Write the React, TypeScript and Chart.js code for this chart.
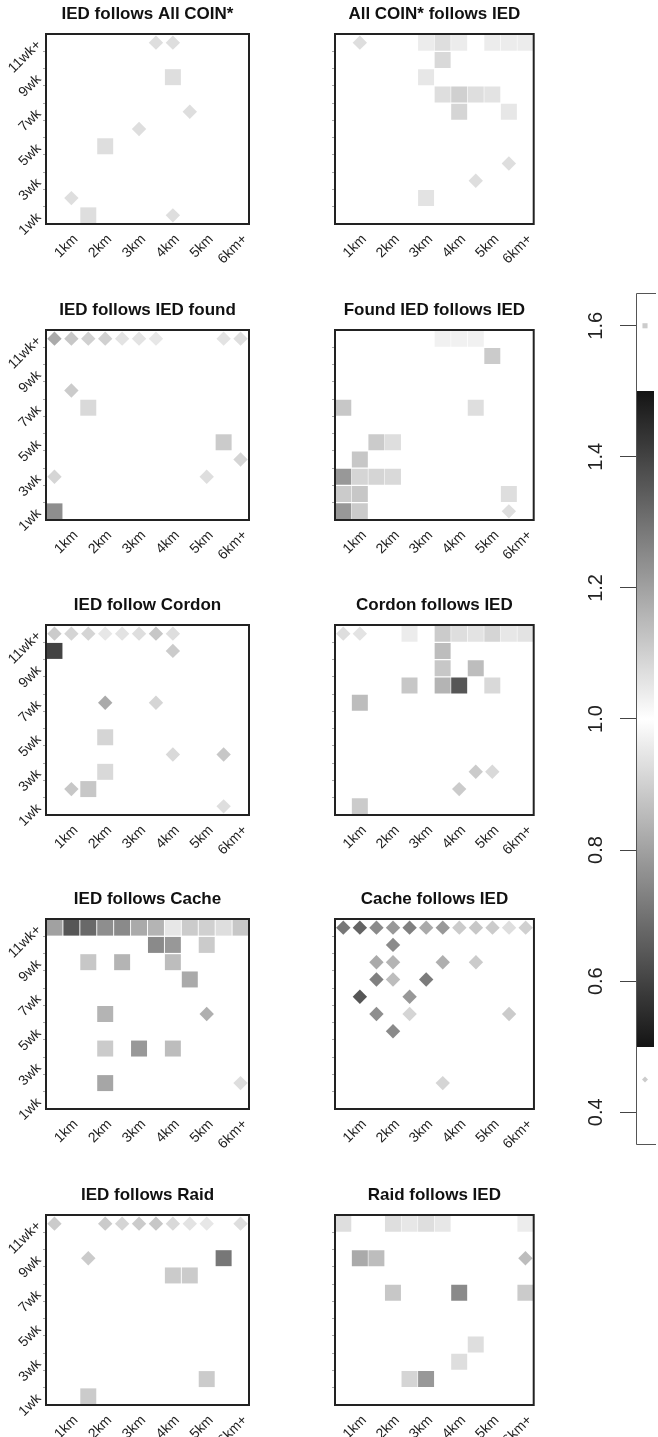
import React, { useEffect, useRef } from 'react';
import { Chart, registerables } from 'chart.js';

Chart.register(...registerables);

const FONT = "'Liberation Sans', Arial, Helvetica, sans-serif";
Chart.defaults.font.family = FONT;

type Cell = [number, number, number]; // [distance column (0.5km steps), week row, ratio]

// ---- axis labels ----
const xTickValues = [2, 4, 6, 8, 10, 12];
const xTickLabels = ['1km', '2km', '3km', '4km', '5km', '6km+'];
const yTickValues = [1, 3, 5, 7, 9, 11];
const yTickLabels = ['1wk', '3wk', '5wk', '7wk', '9wk', '11wk+'];
const yMinorTicks = [1.5, 2.5, 3.5, 4.5, 5.5, 6.5, 7.5, 8.5, 9.5, 10.5];

const colorbarTicks = [0.4, 0.6, 0.8, 1.0, 1.2, 1.4, 1.6];
const bandRange: [number, number] = [0.5, 1.5];
const legendSquareValue = 1.6;
const legendDiamondValue = 0.45;

// ---- panel titles ----
const panelTitles = [
  'IED follows All COIN*', 'All COIN* follows IED',
  'IED follows IED found', 'Found IED follows IED',
  'IED follow Cordon', 'Cordon follows IED',
  'IED follows Cache', 'Cache follows IED',
  'IED follows Raid', 'Raid follows IED',
];

// ---- panel data: [column, row, ratio] ----
const iedFollowsAllCoin: Cell[] = [
  [7, 11, 0.93], [8, 11, 0.93], [8, 9, 1.07], [9, 7, 0.93], [6, 6, 0.93],
  [4, 5, 1.07], [2, 2, 0.93], [3, 1, 1.07], [8, 1, 0.93],
];
const allCoinFollowsIed: Cell[] = [
  [2, 11, 0.93], [6, 11, 1.04], [7, 11, 1.07], [8, 11, 1.04], [10, 11, 1.04], [11, 11, 1.04], [12, 11, 1.04],
  [7, 10, 1.08], [6, 9, 1.05],
  [7, 8, 1.07], [8, 8, 1.10], [9, 8, 1.07], [10, 8, 1.06],
  [8, 7, 1.09], [11, 7, 1.05],
  [11, 4, 0.93], [9, 3, 0.93], [6, 2, 1.06],
];
const iedFollowsIedFound: Cell[] = [
  [1, 11, 0.82], [2, 11, 0.88], [3, 11, 0.90], [4, 11, 0.90], [5, 11, 0.94], [6, 11, 0.94], [7, 11, 0.95],
  [11, 11, 0.94], [12, 11, 0.93],
  [2, 8, 0.89], [3, 7, 1.08], [11, 5, 1.11], [12, 4, 0.91], [1, 3, 0.91], [10, 3, 0.93], [1, 1, 1.24],
];
const foundIedFollowsIed: Cell[] = [
  [7, 11, 1.03], [8, 11, 1.03], [9, 11, 1.03],
  [10, 10, 1.11],
  [1, 7, 1.12], [9, 7, 1.07],
  [3, 5, 1.11], [4, 5, 1.07],
  [2, 4, 1.12],
  [1, 3, 1.22], [2, 3, 1.09], [3, 3, 1.09], [4, 3, 1.08],
  [1, 2, 1.11], [2, 2, 1.12], [11, 2, 1.07],
  [1, 1, 1.22], [2, 1, 1.11], [11, 1, 0.93],
];
const iedFollowCordon: Cell[] = [
  [1, 11, 0.89], [2, 11, 0.91], [3, 11, 0.91], [4, 11, 0.95], [5, 11, 0.94], [6, 11, 0.93], [7, 11, 0.88], [8, 11, 0.93],
  [1, 10, 1.40], [8, 10, 0.89],
  [4, 7, 0.82], [7, 7, 0.91],
  [4, 5, 1.09],
  [8, 4, 0.92], [11, 4, 0.88],
  [4, 3, 1.08],
  [2, 2, 0.88], [3, 2, 1.12],
  [11, 1, 0.93],
];
const cordonFollowsIed: Cell[] = [
  [1, 11, 0.93], [2, 11, 0.94], [5, 11, 1.04], [7, 11, 1.11], [8, 11, 1.07], [9, 11, 1.06], [10, 11, 1.09],
  [11, 11, 1.05], [12, 11, 1.06],
  [7, 10, 1.14],
  [7, 9, 1.12], [9, 9, 1.14],
  [5, 8, 1.12], [7, 8, 1.16], [8, 8, 1.36], [10, 8, 1.08],
  [2, 7, 1.14],
  [9, 3, 0.89], [10, 3, 0.92],
  [8, 2, 0.89],
  [2, 1, 1.11],
];
const iedFollowsCache: Cell[] = [
  [1, 11, 1.20], [2, 11, 1.36], [3, 11, 1.32], [4, 11, 1.24], [5, 11, 1.25], [6, 11, 1.18],
  [7, 11, 1.16], [8, 11, 1.05], [9, 11, 1.11], [10, 11, 1.10], [11, 11, 1.07], [12, 11, 1.12],
  [7, 10, 1.25], [8, 10, 1.22], [10, 10, 1.11],
  [3, 9, 1.12], [5, 9, 1.16], [8, 9, 1.14],
  [9, 8, 1.18],
  [4, 6, 1.16], [10, 6, 0.83],
  [4, 4, 1.11], [6, 4, 1.22], [8, 4, 1.14],
  [4, 2, 1.19], [12, 2, 0.93],
];
const cacheFollowsIed: Cell[] = [
  [1, 11, 0.71], [2, 11, 0.67], [3, 11, 0.75], [4, 11, 0.78], [5, 11, 0.73], [6, 11, 0.82],
  [7, 11, 0.78], [8, 11, 0.89], [9, 11, 0.88], [10, 11, 0.89], [11, 11, 0.93], [12, 11, 0.90],
  [4, 10, 0.75],
  [3, 9, 0.82], [4, 9, 0.84], [7, 9, 0.83], [9, 9, 0.89],
  [3, 8, 0.73], [4, 8, 0.86], [6, 8, 0.72],
  [2, 7, 0.64], [5, 7, 0.78],
  [3, 6, 0.76], [5, 6, 0.91], [11, 6, 0.89],
  [4, 5, 0.75],
  [7, 2, 0.91],
];
const iedFollowsRaid: Cell[] = [
  [1, 11, 0.89], [4, 11, 0.89], [5, 11, 0.91], [6, 11, 0.89], [7, 11, 0.88], [8, 11, 0.92],
  [9, 11, 0.94], [10, 11, 0.95], [12, 11, 0.93],
  [3, 9, 0.89], [11, 9, 1.29],
  [8, 8, 1.11], [9, 8, 1.11],
  [10, 2, 1.11],
  [3, 1, 1.11],
];
const raidFollowsIed: Cell[] = [
  [1, 11, 1.07], [4, 11, 1.07], [5, 11, 1.05], [6, 11, 1.07], [7, 11, 1.05], [12, 11, 1.04],
  [2, 9, 1.18], [3, 9, 1.14], [12, 9, 0.86],
  [4, 7, 1.12], [8, 7, 1.25], [12, 7, 1.11],
  [9, 4, 1.07],
  [8, 3, 1.07],
  [5, 2, 1.09], [6, 2, 1.22],
];

const panelData: Cell[][] = [
  iedFollowsAllCoin, allCoinFollowsIed,
  iedFollowsIedFound, foundIedFollowsIed,
  iedFollowCordon, cordonFollowsIed,
  iedFollowsCache, cacheFollowsIed,
  iedFollowsRaid, raidFollowsIed,
];

// ---- layout (pixels) ----
const rowTops = [0, 296, 591, 885, 1181];
const rowHeights = [295, 295, 295, 295, 256];
const PLOT_TOP = 34;
const PLOT_H = 190;

function grayFor(v: number): string {
  const d = Math.min(1, Math.abs(v - 1) / 0.5);
  const g = Math.round(255 - 235 * d);
  return `rgb(${g},${g},${g})`;
}

const boxPlugin = {
  id: 'panelBox',
  afterDatasetsDraw(chart: any) {
    const { ctx, chartArea: a } = chart;
    ctx.save();
    ctx.strokeStyle = '#222';
    ctx.lineWidth = 2;
    ctx.strokeRect(a.left, a.top, a.right - a.left, a.bottom - a.top);
    ctx.restore();
  },
};

type PanelProps = {
  title: string;
  cells: Cell[];
  showYLabels: boolean;
  left: number;
  top: number;
  width: number;
  height: number;
  yAxisWidth: number;
  padRight: number;
};

function Panel({ title, cells, showYLabels, left, top, width, height, yAxisWidth, padRight }: PanelProps) {
  const ref = useRef<HTMLCanvasElement | null>(null);
  useEffect(() => {
    if (!ref.current) return;
    const allY = [...yTickValues, ...yMinorTicks].sort((a, b) => a - b);
    const chart = new Chart(ref.current, {
      type: 'scatter',
      data: {
        datasets: [
          {
            data: cells.map(([c, r, v]) => ({ x: c, y: r, v })) as any,
            pointStyle: (ctx: any) => (ctx.raw && ctx.raw.v > 1 ? 'rect' : 'rectRot'),
            pointRadius: (ctx: any) => (ctx.raw && ctx.raw.v > 1 ? 11.3 : 7.2),
            pointBackgroundColor: (ctx: any) => grayFor(ctx.raw ? ctx.raw.v : 1),
            pointBorderWidth: 0,
            pointHoverRadius: 0,
          } as any,
        ],
      },
      options: {
        animation: false,
        responsive: false,
        events: [],
        layout: { padding: { left: 0, right: padRight, top: 0, bottom: 0 } },
        plugins: {
          legend: { display: false },
          tooltip: { enabled: false },
          title: {
            display: true,
            text: title,
            fullSize: false,
            color: '#111',
            font: { family: FONT, size: 17, weight: 'bold' },
            padding: { top: 4.3, bottom: 9.3 },
          } as any,
        },
        scales: {
          x: {
            type: 'linear',
            min: 0.5,
            max: 12.5,
            afterBuildTicks: (s: any) => {
              s.ticks = xTickValues.map((v) => ({ value: v }));
            },
            afterFit: (s: any) => {
              s.height = height - PLOT_TOP - PLOT_H;
            },
            grid: { display: false, drawTicks: false },
            border: { display: false },
            ticks: {
              autoSkip: false,
              minRotation: 45,
              maxRotation: 45,
              padding: 7,
              labelOffset: 4.4,
              color: '#222',
              font: { family: FONT, size: 14 },
              callback: (v: any) => {
                const i = xTickValues.indexOf(Number(v));
                return i >= 0 ? xTickLabels[i] : '';
              },
            },
          },
          y: {
            type: 'linear',
            min: 0.5,
            max: 11.5,
            afterBuildTicks: (s: any) => {
              s.ticks = allY.map((v) => ({ value: v }));
            },
            afterFit: (s: any) => {
              s.width = yAxisWidth;
            },
            grid: {
              display: true,
              drawOnChartArea: false,
              drawTicks: true,
              tickLength: 3,
              tickWidth: 1,
              tickColor: (ctx: any) =>
                ctx.tick && Number.isInteger(ctx.tick.value) ? 'rgba(0,0,0,0)' : '#aaa',
            },
            border: { display: false },
            ticks: {
              autoSkip: false,
              minRotation: 45,
              maxRotation: 45,
              padding: 4,
              color: '#222',
              font: { family: FONT, size: 14 },
              callback: (v: any) => {
                if (!showYLabels) return '';
                const i = yTickValues.indexOf(Number(v));
                return i >= 0 ? yTickLabels[i] : '';
              },
            },
          },
        },
      } as any,
      plugins: [boxPlugin],
    });
    return () => chart.destroy();
  }, []);
  return (
    <canvas
      ref={ref}
      width={width}
      height={height}
      style={{ position: 'absolute', left, top, width, height }}
    />
  );
}

const colorbarFramePlugin = {
  id: 'cbFrame',
  afterDatasetsDraw(chart: any) {
    const { ctx, chartArea: a } = chart;
    ctx.save();
    ctx.strokeStyle = '#555';
    ctx.lineWidth = 1;
    ctx.beginPath();
    ctx.moveTo(a.right + 2, a.top + 0.5);
    ctx.lineTo(a.left + 0.5, a.top + 0.5);
    ctx.lineTo(a.left + 0.5, a.bottom - 0.5);
    ctx.lineTo(a.right + 2, a.bottom - 0.5);
    ctx.stroke();
    ctx.restore();
  },
};

function ColorBar() {
  const ref = useRef<HTMLCanvasElement | null>(null);
  const left = 560;
  const top = 260;
  const width = 98;
  const height = 910;
  useEffect(() => {
    if (!ref.current) return;
    const chart = new Chart(ref.current, {
      type: 'bar',
      data: {
        labels: [''],
        datasets: [
          {
            type: 'bar',
            data: [bandRange] as any,
            barPercentage: 1,
            categoryPercentage: 1,
            borderWidth: 0,
            backgroundColor: (ctx: any) => {
              const chart = ctx.chart;
              if (!chart.chartArea) return '#888';
              const ys = chart.scales.y;
              const y0 = ys.getPixelForValue(bandRange[1]);
              const y1 = ys.getPixelForValue(bandRange[0]);
              const g = chart.ctx.createLinearGradient(0, y0, 0, y1);
              for (let i = 0; i <= 40; i++) {
                const t = i / 40;
                const v = bandRange[1] - t * (bandRange[1] - bandRange[0]);
                g.addColorStop(t, grayFor(v));
              }
              return g;
            },
          } as any,
          {
            type: 'line',
            data: [legendSquareValue],
            showLine: false,
            pointStyle: 'rect',
            pointRadius: 3.6,
            pointBackgroundColor: '#cccccc',
            pointBorderWidth: 0,
          } as any,
          {
            type: 'line',
            data: [legendDiamondValue],
            showLine: false,
            pointStyle: 'rectRot',
            pointRadius: 3,
            pointBackgroundColor: '#cccccc',
            pointBorderWidth: 0,
          } as any,
        ],
      },
      options: {
        animation: false,
        responsive: false,
        events: [],
        layout: { padding: { left: 0, right: 0, top: 33, bottom: 25 } },
        plugins: { legend: { display: false }, tooltip: { enabled: false }, title: { display: false } },
        scales: {
          x: { display: false },
          y: {
            type: 'linear',
            min: 0.35,
            max: 1.65,
            afterBuildTicks: (s: any) => {
              s.ticks = colorbarTicks.map((v) => ({ value: v }));
            },
            afterFit: (s: any) => {
              s.width = 76;
            },
            grid: {
              display: true,
              drawOnChartArea: false,
              drawTicks: true,
              tickLength: 16,
              tickWidth: 1,
              tickColor: '#444',
            },
            border: { display: false },
            ticks: {
              autoSkip: false,
              minRotation: 90,
              maxRotation: 90,
              crossAlign: 'center',
              padding: 10,
              color: '#222',
              font: { family: FONT, size: 20 },
              callback: (v: any) => Number(v).toFixed(1),
            },
          },
        },
      } as any,
      plugins: [colorbarFramePlugin],
    });
    return () => chart.destroy();
  }, []);
  return (
    <canvas
      ref={ref}
      width={width}
      height={height}
      style={{ position: 'absolute', left, top, width, height }}
    />
  );
}

export default function App() {
  const panels = panelTitles.map((title, i) => {
    const row = Math.floor(i / 2);
    const isLeft = i % 2 === 0;
    return (
      <Panel
        key={title}
        title={title}
        cells={panelData[i]}
        showYLabels={isLeft}
        left={isLeft ? 0 : 295}
        top={rowTops[row]}
        width={isLeft ? 295 : 250}
        height={rowHeights[row]}
        yAxisWidth={isLeft ? 46 : 40}
        padRight={isLeft ? 46 : 6}
      />
    );
  });
  return (
    <div
      style={{
        position: 'absolute',
        left: 0,
        top: 0,
        width: 658,
        height: 1437,
        overflow: 'hidden',
        background: '#ffffff',
      }}
    >
      {panels}
      <ColorBar />
    </div>
  );
}
